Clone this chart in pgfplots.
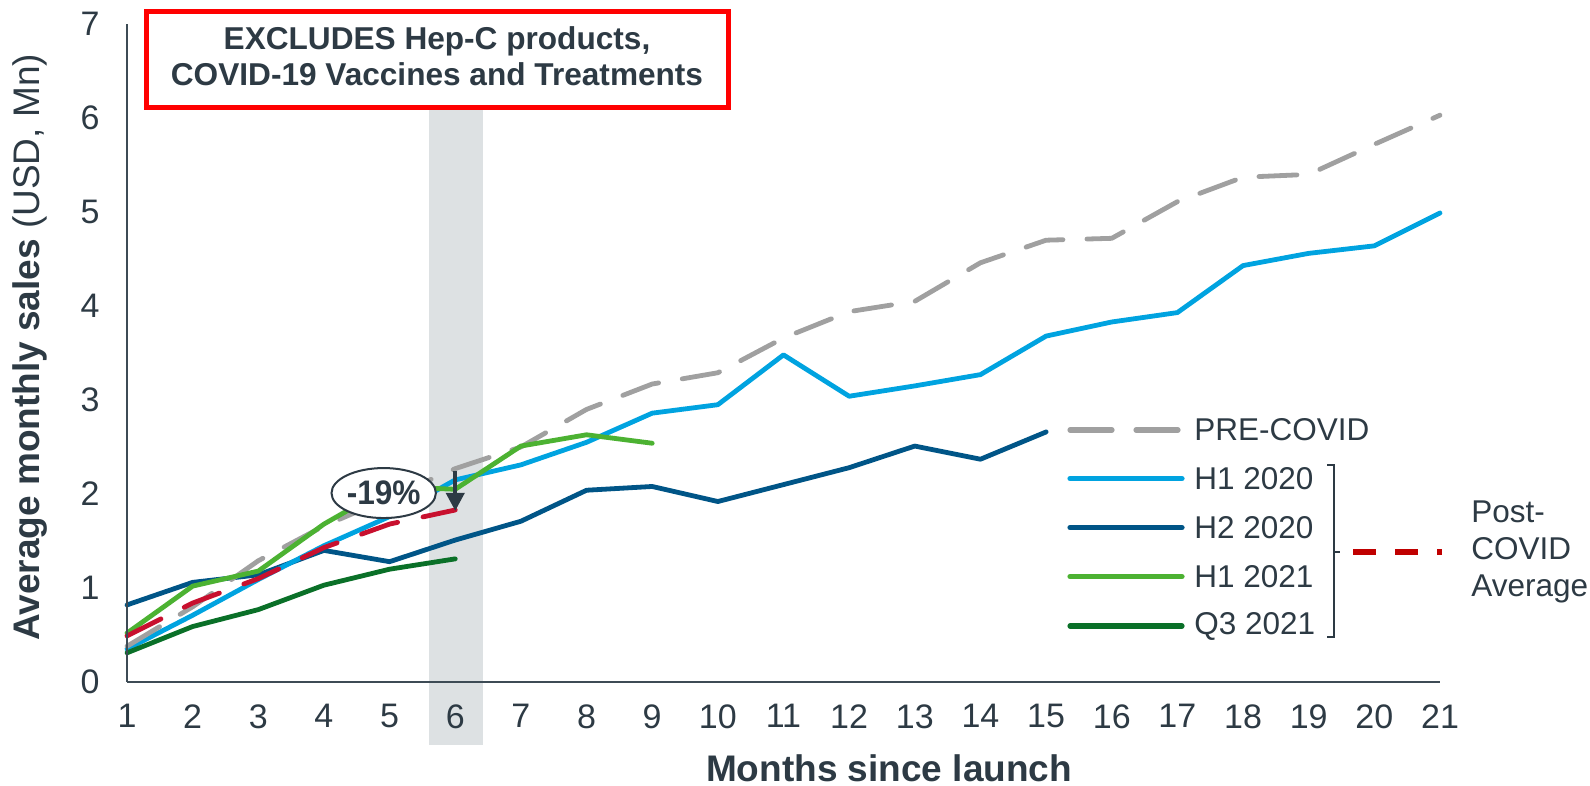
\documentclass[border=0pt]{standalone}
\usepackage{pgfplots}
\pgfplotsset{compat=1.18}
\usepackage{fontspec}
\setmainfont{Liberation Sans}
\usetikzlibrary{arrows.meta,shapes.geometric}

\definecolor{txt}{HTML}{2D3A44}
\definecolor{axisc}{HTML}{3D4B55}
\definecolor{bandc}{HTML}{DDE1E3}
\definecolor{precovid}{HTML}{A0A0A0}
\definecolor{hOneTwenty}{HTML}{00A3E0}
\definecolor{hTwoTwenty}{HTML}{005587}
\definecolor{hOneTwentyOne}{HTML}{4CB232}
\definecolor{qThree}{HTML}{0A7028}
\definecolor{avgred}{HTML}{C8102E}
\definecolor{legred}{HTML}{C00000}

% Average monthly sales per launch cohort (USD, Mn)
\pgfplotstableread{
m   v
1   0.38
2   0.80
3   1.29
4   1.66
5   1.96
6   2.27
7   2.50
8   2.90
9   3.17
10  3.29
11  3.66
12  3.94
13  4.05
14  4.46
15  4.70
16  4.72
17  5.11
18  5.37
19  5.40
20  5.72
21  6.03
}\precovid
\pgfplotstableread{
m   v
1   0.35
2   0.71
3   1.09
4   1.45
5   1.76
6   2.15
7   2.31
8   2.55
9   2.86
10  2.95
11  3.48
12  3.04
13  3.15
14  3.27
15  3.68
16  3.83
17  3.93
18  4.43
19  4.56
20  4.64
21  4.99
}\hOneA
\pgfplotstableread{
m   v
1   0.82
2   1.06
3   1.14
4   1.40
5   1.28
6   1.51
7   1.71
8   2.04
9   2.08
10  1.92
11  2.10
12  2.28
13  2.51
14  2.37
15  2.66
}\hTwoA
\pgfplotstableread{
m   v
1   0.52
2   1.02
3   1.18
4   1.68
5   2.08
6   2.05
7   2.51
8   2.63
9   2.54
}\hOneB
\pgfplotstableread{
m   v
1   0.31
2   0.59
3   0.77
4   1.03
5   1.20
6   1.31
}\qThreeB
\pgfplotstableread{
m   v
1   0.49
2   0.84
3   1.10
4   1.43
5   1.68
6   1.83
}\postavg

\begin{document}
\begin{tikzpicture}
\begin{axis}[
  scale only axis, width=656.5pt, height=329pt,
  xmin=1, xmax=21, ymin=0, ymax=7,
  axis x line=bottom, axis y line=left,
  axis line style={-, draw=axisc, line width=1pt},
  xtick={1,...,21}, ytick={0,...,7},
  major tick length=0pt,
  /pgf/number format/assume math mode=true,
  tick label style={font=\fontsize{17}{20}\selectfont, text=txt, inner sep=0pt},
  xticklabel shift=11pt, yticklabel shift=13.5pt,
  clip=false, axis on top,
  every axis plot/.append style={line width=2.4pt, line cap=round, line join=round},
]
  % highlighted month
  \fill[bandc] (axis cs:5.595,-0.67) rectangle (axis cs:6.418,7);

  \addplot[hTwoTwenty] table[x=m,y=v] {\hTwoA};
  \addplot[hOneTwenty] table[x=m,y=v] {\hOneA};
  \addplot[qThree] table[x=m,y=v] {\qThreeB};
  \addplot[precovid, dash pattern=on 19pt off 12pt] table[x=m,y=v] {\precovid};
  \addplot[hOneTwentyOne] table[x=m,y=v] {\hOneB};
  \addplot[avgred, dash pattern=on 19pt off 13pt] table[x=m,y=v] {\postavg};

  % gap between pre-COVID and post-COVID average at month 6
  \draw[txt, line width=2pt, -{Triangle[width=9pt,length=9pt]}]
    (axis cs:6,2.24) -- (axis cs:6,1.82);
  \node[ellipse, draw=txt, line width=1pt, fill=white, minimum width=52pt,
        minimum height=25pt, inner sep=0pt] at (axis cs:4.91,2.01)
    {\scalebox{0.93}[1]{\fontsize{17}{20}\selectfont\bfseries\color{txt}-19\%}};
\end{axis}

% axis titles
\node[rotate=90, text=txt, font=\fontsize{18.5}{22}\selectfont] at (-48.3pt,167.3pt)
  {\textbf{Average monthly sales} (USD, Mn)};
\node[text=txt, font=\fontsize{18.5}{22}\selectfont\bfseries, inner sep=1pt] at (381pt,-43pt)
  {Months since launch};

% exclusion note
\node[draw=red, line width=2.5pt, fill=white, minimum width=291pt, minimum height=48pt,
      align=center, text=txt, inner sep=0pt] at (155pt,311pt)
  {\fontsize{15.8}{18}\selectfont\bfseries
   \begin{tabular}{@{}c@{}}EXCLUDES Hep-C products,\\COVID-19 Vaccines and Treatments\end{tabular}};

% legend
\begin{scope}[font=\fontsize{15.75}{18.5}\selectfont, text=txt]
  \draw[precovid, line width=2.6pt, line cap=round, dash pattern=on 21pt off 12pt]
    (471.5pt,126pt) -- (527.5pt,126pt);
  \draw[hOneTwenty, line width=2.6pt, line cap=round] (471.5pt,101.7pt) -- (527.5pt,101.7pt);
  \draw[hTwoTwenty, line width=2.6pt, line cap=round] (471.5pt,77.2pt) -- (527.5pt,77.2pt);
  \draw[hOneTwentyOne, line width=2.6pt, line cap=round] (471.5pt,52.7pt) -- (527.5pt,52.7pt);
  \draw[qThree, line width=2.6pt, line cap=round] (471.5pt,28pt) -- (527.5pt,28pt);
  \node[anchor=west, inner sep=0pt] at (533.5pt,126pt) {PRE-COVID};
  \node[anchor=west, inner sep=0pt] at (533.5pt,101.7pt) {H1 2020};
  \node[anchor=west, inner sep=0pt] at (533.5pt,77.2pt) {H2 2020};
  \node[anchor=west, inner sep=0pt] at (533.5pt,52.7pt) {H1 2021};
  \node[anchor=west, inner sep=0pt] at (533.5pt,28pt) {Q3 2021};
  % bracket grouping the post-COVID cohorts
  \draw[txt, line width=0.9pt] (600pt,108.5pt) -- (603.5pt,108.5pt) -- (603.5pt,22.5pt) -- (600pt,22.5pt);
  \draw[txt, line width=0.9pt] (603.5pt,65pt) -- (606.5pt,65pt);
  \draw[legred, line width=3.3pt, dash pattern=on 11.5pt off 9.5pt] (613pt,65pt) -- (657.5pt,65pt);
  \node[anchor=west, inner sep=0pt, align=left] at (672pt,65pt) {Post-\\COVID\\Average};
\end{scope}

\pgfresetboundingbox
\path[use as bounding box] (-63.5pt,-52pt) rectangle (731.5pt,341pt);
\end{tikzpicture}
\end{document}
